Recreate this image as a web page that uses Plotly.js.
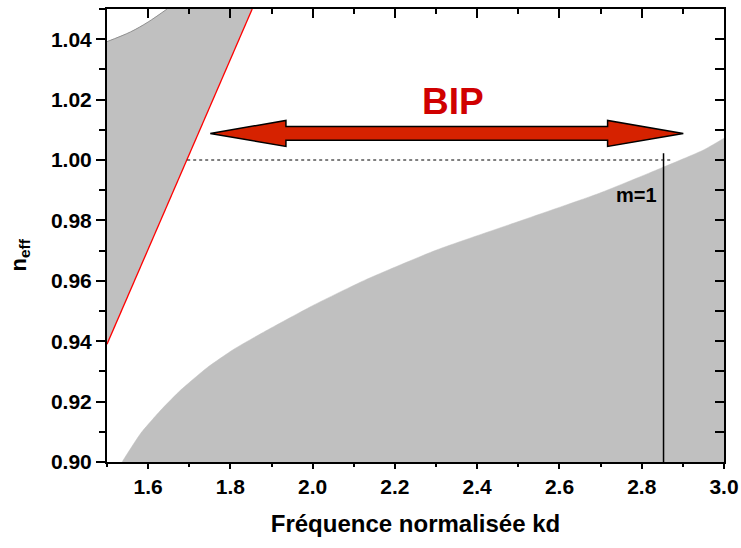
<!DOCTYPE html>
<html>
<head>
<meta charset="utf-8">
<script src="https://cdn.plot.ly/plotly-3.0.1.min.js"></script>
<style>html,body{margin:0;padding:0;background:#fff;}#chart{width:741px;height:548px;}</style>
</head>
<body>
<div id="chart"></div>
<script>
// ---- data ----
// lower grey band boundary (guided mode region)
const kdLower = [1.537, 1.582, 1.631, 1.679, 1.744, 1.809, 1.890, 2.003, 2.128, 2.301, 2.504, 2.697, 2.845, 2.950, 3.0];
const nLower  = [0.9001, 0.9095, 0.9172, 0.9238, 0.9313, 0.9374, 0.9437, 0.9520, 0.9603, 0.9702, 0.9798, 0.9890, 0.9972, 1.0033, 1.0072];
// upper-left grey band boundary
const kdUpper = [1.5, 1.557, 1.600, 1.646];
const nUpper  = [1.0392, 1.0424, 1.0457, 1.0500];
// light line (red)
const kdLight = [1.5, 1.853];
const nLight  = [0.939, 1.05];
// cut-off of mode m=1
const cutoffKd = [2.853, 2.853];
const cutoffN  = [0.900, 1.0022];
const cutoffLabel = "m=1";
// n = 1 dotted reference
const dottedKd = [1.695, 2.876];
const dottedN  = [1.00, 1.00];
// BIP double arrow
const arrowKd = [1.751, 2.901];
const arrowN  = 1.0088;
const bipLabel = "BIP";
const bipPos = [2.341, 1.0193];
// axis labels
const xTitle = "Fréquence normalisée kd";
const yTitle = "n<sub>eff</sub>";

// arrow geometry (style, in data units)
const headLen = 0.184, shaftHalf = 0.0023, headHalf = 0.0043;
const ax0 = arrowKd[0], ax1 = arrowKd[1], ay = arrowN;
const arrowX = [ax0, ax0+headLen, ax0+headLen, ax1-headLen, ax1-headLen, ax1, ax1-headLen, ax1-headLen, ax0+headLen, ax0+headLen, ax0];
const arrowY = [ay, ay+headHalf, ay+shaftHalf, ay+shaftHalf, ay+headHalf, ay, ay-headHalf, ay-shaftHalf, ay-shaftHalf, ay-headHalf, ay];

const grey = '#c0c0c0';
const FONT = 'Liberation Sans, Arial, sans-serif';
const xr = [1.5, 3.0], yr = [0.90, 1.05];

const traces = [
  // lower grey region
  {x: kdLower, y: nLower, mode: 'lines', fill: 'tozeroy', fillcolor: grey,
   line: {color: grey, width: 0.5, shape: 'spline', smoothing: 0.5}, hoverinfo: 'skip'},
  // upper-left grey region
  {x: kdLight.concat(kdUpper.slice().reverse()), y: nLight.concat(nUpper.slice().reverse()),
   mode: 'lines', fill: 'toself', fillcolor: grey, line: {width: 0}, hoverinfo: 'skip'},
  // upper boundary line
  {x: kdUpper, y: nUpper, mode: 'lines', line: {color: '#909090', width: 1, shape: 'spline'}, hoverinfo: 'skip'},
  // light line
  {x: kdLight, y: nLight, mode: 'lines', line: {color: '#ff0000', width: 1.3}, hoverinfo: 'skip'},
  // dotted n=1
  {x: dottedKd, y: dottedN, mode: 'lines', line: {color: '#000', width: 1, dash: 'dot'}, hoverinfo: 'skip'},
  // cut-off line
  {x: cutoffKd, y: cutoffN, mode: 'lines', line: {color: '#000', width: 1.5}, hoverinfo: 'skip'},
  // arrow
  {x: arrowX, y: arrowY, mode: 'lines', fill: 'toself', fillcolor: '#d62200',
   line: {color: '#000', width: 1.5}, hoverinfo: 'skip'},
  // carrier for the mirrored axes (invisible)
  {x: [xr[0]], y: [yr[0]], xaxis: 'x2', yaxis: 'y2', mode: 'markers', marker: {opacity: 0}, hoverinfo: 'skip'}
];

const tickFont = {family: FONT, size: 21, color: '#000', weight: 'bold'};

const layout = {
  width: 741, height: 548,
  margin: {l: 107, r: 17, t: 9, b: 86},
  paper_bgcolor: '#fff', plot_bgcolor: '#fff',
  showlegend: false, hovermode: false,
  xaxis: {range: xr, dtick: 0.2, tick0: 1.6, tickformat: '.1f', ticks: 'outside', ticklen: 5, tickwidth: 2,
          tickcolor: '#000', showline: true, linewidth: 2, linecolor: '#000', showgrid: false, zeroline: false,
          tickfont: tickFont, minor: {dtick: 0.1, tick0: 1.5, ticks: 'outside', ticklen: 3, tickwidth: 2, tickcolor: '#000', showgrid: false},
          title: {text: '<b>' + xTitle + '</b>', font: {family: FONT, size: 24, color: '#000', weight: 'bold'}, standoff: 18}},
  yaxis: {range: yr, dtick: 0.02, tick0: 0.90, tickformat: '.2f', ticks: 'outside', ticklen: 9, tickwidth: 2,
          tickcolor: '#000', showline: true, linewidth: 2, linecolor: '#000', showgrid: false, zeroline: false,
          tickfont: tickFont, minor: {dtick: 0.01, tick0: 0.90, ticks: 'outside', ticklen: 6, tickwidth: 2, tickcolor: '#000', showgrid: false}},
  xaxis2: {range: xr, overlaying: 'x', side: 'top', anchor: 'y', dtick: 0.2, tick0: 1.6, ticks: 'inside', ticklen: 9, tickwidth: 2,
           tickcolor: '#000', showline: true, linewidth: 2, linecolor: '#000', showgrid: false, zeroline: false, showticklabels: false,
           minor: {dtick: 0.1, tick0: 1.5, ticks: 'inside', ticklen: 5, tickwidth: 2, tickcolor: '#000', showgrid: false}},
  yaxis2: {range: yr, overlaying: 'y', side: 'right', anchor: 'x', dtick: 0.02, tick0: 0.90, ticks: 'inside', ticklen: 9, tickwidth: 2,
           tickcolor: '#000', showline: true, linewidth: 2, linecolor: '#000', showgrid: false, zeroline: false, showticklabels: false,
           minor: {dtick: 0.01, tick0: 0.90, ticks: 'inside', ticklen: 9, tickwidth: 2, tickcolor: '#000', showgrid: false}},
  annotations: [
    {x: bipPos[0], y: bipPos[1], xref: 'x', yref: 'y', text: '<b>' + bipLabel + '</b>', showarrow: false,
     font: {family: FONT, size: 37, color: '#d00000', weight: 'bold'}},
    {x: cutoffKd[0] - 0.012, y: 0.9883, xref: 'x', yref: 'y', text: '<b>' + cutoffLabel + '</b>', showarrow: false, xanchor: 'right',
     font: {family: FONT, size: 20, color: '#000', weight: 'bold'}},
    {x: -0.141, y: 0.456, xref: 'paper', yref: 'paper', text: '<b>' + yTitle + '</b>', showarrow: false, textangle: -90,
     xanchor: 'center', yanchor: 'middle', font: {family: FONT, size: 22, color: '#000', weight: 'bold'}}
  ]
};

Plotly.newPlot('chart', traces, layout, {staticPlot: true, displayModeBar: false});
</script>
</body>
</html>
